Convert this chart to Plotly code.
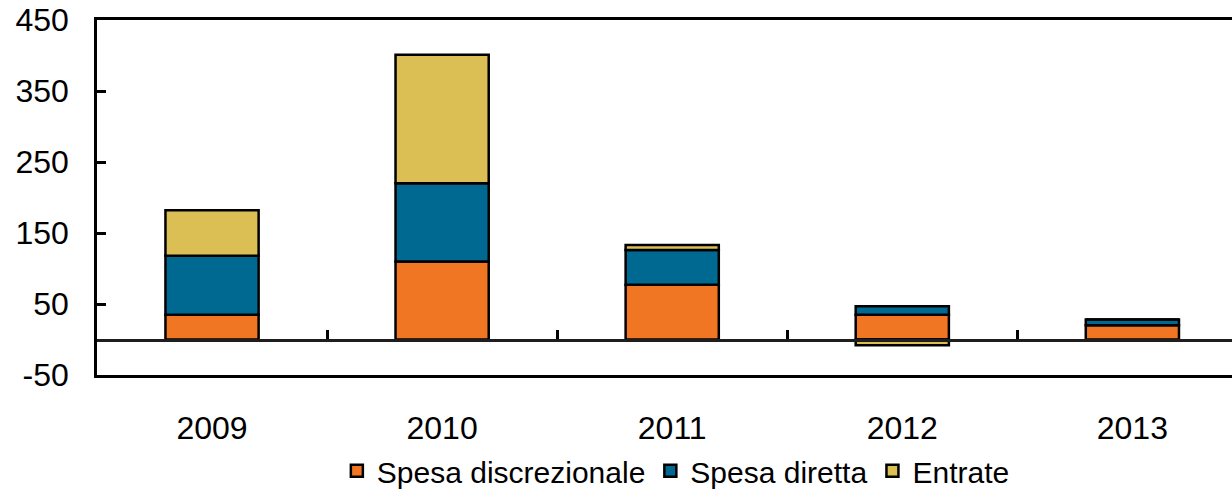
import plotly.graph_objects as go

years = ["2009", "2010", "2011", "2012", "2013"]
spesa_discrezionale = [35, 110, 77, 35, 20]
spesa_diretta = [83, 110, 49, 12, 8]
entrate = [64, 181, 7, -8, 0]

y_ticks = [-50, 50, 150, 250, 350, 450]
y_tick_text = ["-50", "50", "150", "250", "350", "450"]

colors = {"disc": "rgb(240,118,36)", "dir": "rgb(0,105,145)", "ent": "rgb(219,190,84)"}

x_pos = list(range(len(years)))
boundaries = [i + 0.5 for i in range(len(years) - 1)]
x_range = [-0.5, 4.433]

fig = go.Figure()
for name, vals, col in [("Spesa discrezionale", spesa_discrezionale, colors["disc"]),
                        ("Spesa diretta", spesa_diretta, colors["dir"]),
                        ("Entrate", entrate, colors["ent"])]:
    fig.add_trace(go.Bar(x=x_pos, y=vals, name=name, width=0.405,
                         marker=dict(color=col, line=dict(color="black", width=2.5))))

# helper invisible trace for the zero-line axis
fig.add_trace(go.Scatter(x=[None], y=[None], xaxis="x2", showlegend=False, hoverinfo="skip"))

font = dict(family="Liberation Sans, Arial, sans-serif", size=32, color="black")

fig.update_layout(
    width=1232, height=489,
    margin=dict(l=97, r=0, t=20, b=114, autoexpand=False),
    barmode="relative",
    paper_bgcolor="white", plot_bgcolor="white",
    font=font,
    xaxis=dict(range=x_range, tickvals=x_pos, ticktext=years, showline=True, mirror=True,
               linecolor="black", linewidth=2.5, ticks="", showgrid=False, zeroline=False,
               ticklabelstandoff=23, tickfont=font, automargin=False),
    xaxis2=dict(range=x_range, overlaying="x", anchor="free", position=0.1, side="bottom",
                showline=True, linecolor="rgb(30,30,30)", linewidth=2.5, ticks="inside",
                tickvals=boundaries, ticklen=9, tickwidth=2.5, tickcolor="black",
                showticklabels=False, showgrid=False, zeroline=False, automargin=False),
    yaxis=dict(range=[-50, 450], tickvals=y_ticks, ticktext=y_tick_text, showline=True,
               linecolor="black", linewidth=2.5,
               ticks="inside", ticklen=9, tickwidth=2.5, tickcolor="black", showgrid=False,
               zeroline=False, ticklabelstandoff=19, tickfont=font, automargin=False,
               ticklabeloverflow="allow"),
    legend=dict(orientation="h", x=0.51, xanchor="center", y=-0.27, yanchor="middle",
                font=dict(family="Liberation Sans, Arial, sans-serif", size=30, color="black"),
                itemwidth=30, tracegroupgap=0, bgcolor="rgba(0,0,0,0)"),
    showlegend=True,
)

fig.write_html("out.html", config={"displayModeBar": False},
               post_script="document.body.style.margin='0';document.body.style.overflow='hidden';")
